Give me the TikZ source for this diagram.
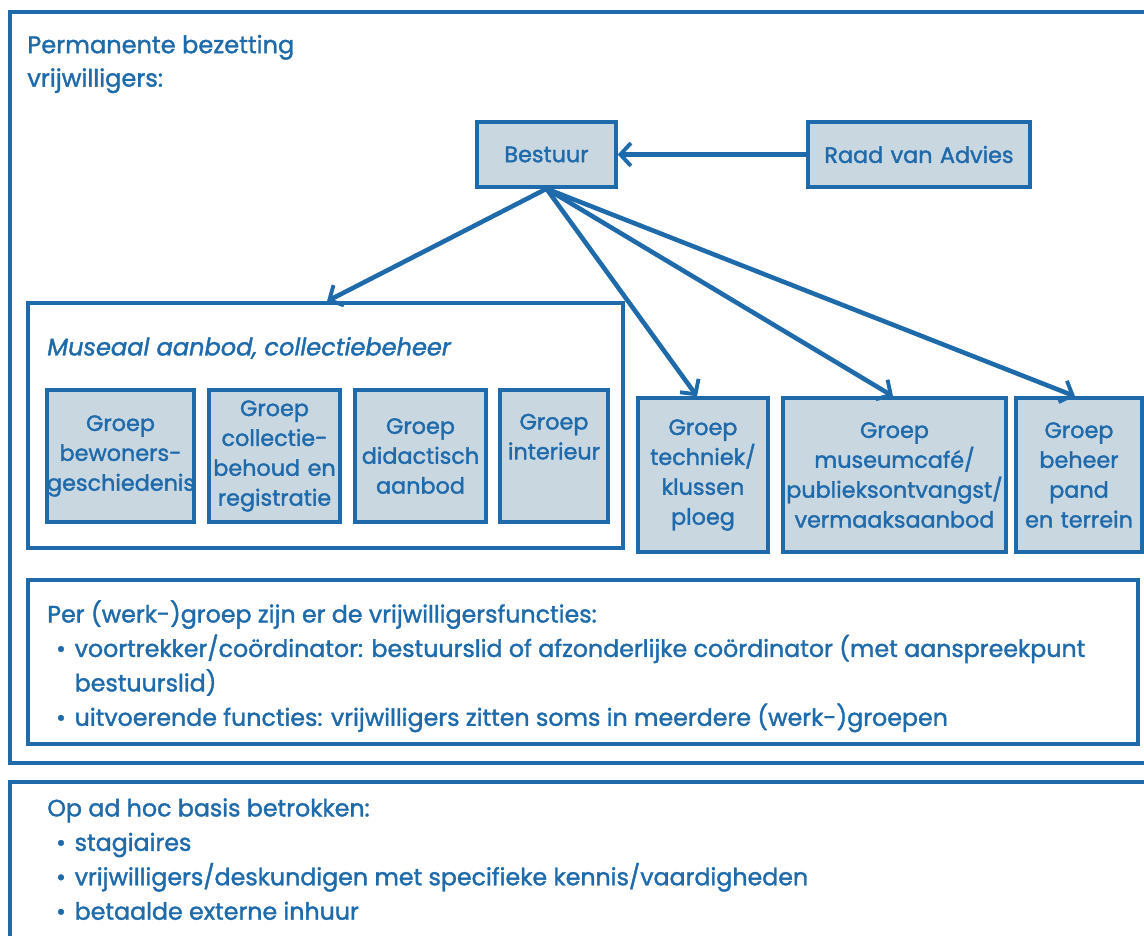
\documentclass[tikz,border=0pt]{standalone}
\usepackage{fontspec}
\setmainfont{Poppins}[FakeBold=1.5]
\usetikzlibrary{arrows.meta}
\definecolor{orgblue}{HTML}{1E6AAB}
\definecolor{orgfill}{HTML}{C9D7E1}

\begin{document}
\begin{tikzpicture}
  [x=0.02cm,y=-0.02cm,
   every node/.style={text=orgblue,font=\fontsize{12.7}{17}\selectfont},
   frame/.style={draw=orgblue,line width=2pt},
   groep/.style={frame,fill=orgfill,align=center,inner xsep=0pt,text width=#1},
   lijst/.style={align=left,anchor=north west,inner sep=0pt,font=\fontsize{13.5}{19.6}\selectfont},
   pijl/.style={draw=orgblue,line width=2.6pt,-{Straight Barb[length=6pt,width=13pt,line width=2.2pt]}}]
  \useasboundingbox (0,0) rectangle (1144,936);
  \clip (0,0) rectangle (1144,936);

  % outer frames
  \draw[frame] (10,12) rectangle (1170,763);
  \draw[frame] (10,782) rectangle (1170,960);
  \node[align=left,anchor=west,inner sep=0pt,font=\fontsize{13.7}{19}\selectfont] (titel) at (27,64) {Permanente bezetting\\vrijwilligers:};

  % top level
  \node[groep=2.78cm,minimum height=1.3cm] (bestuur) at (546.5,154.5) {Bestuur};
  \node[groep=4.44cm,minimum height=1.3cm] (raad) at (919,154.5) {Raad van Advies};

  % museaal aanbod
  \node[frame,minimum width=11.9cm,minimum height=4.9cm] (museaal) at (325.5,425.5) {};
  \node[anchor=west,inner sep=0pt,font=\fontsize{13.7}{17}\itshape] (museaaltitel) at (47,348) {Museaal aanbod, collectiebeheer};
  \node[groep=2.94cm,minimum height=2.64cm] (bewoners) at (120.5,456) {Groep\\bewoners-\\geschiedenis};
  \node[groep=2.62cm,minimum height=2.64cm] (collectie) at (274.5,456) {Groep\\collectie-\\behoud en\\registratie};
  \node[groep=2.62cm,minimum height=2.64cm] (didactisch) at (420.5,456) {Groep\\didactisch\\aanbod};
  \node[groep=2.16cm,minimum height=2.64cm] (interieur) at (554,456) {Groep\\interieur\\\strut};

  % other groups
  \node[groep=2.6cm,minimum height=3.08cm] (techniek) at (703,475) {Groep\\techniek/\\klussen\\ploeg};
  \node[groep=4.46cm,minimum height=3.08cm] (cafe) at (894.5,475) {Groep\\museumcafé/\\publieksontvangst/\\vermaaksaanbod};
  \node[groep=2.52cm,minimum height=3.08cm] (beheer) at (1079,475) {Groep\\beheer\\pand\\en terrein};

  \draw[pijl] (raad) -- (bestuur);
  \foreach \to/\x in {museaal/327,techniek/697,cafe/893,beheer/1075}
    \draw[pijl] (bestuur.south) -- (\to.north -| \x,0);

  % functies
  \node[frame,minimum width=22.2cm,minimum height=3.28cm] (functies) at (583,662) {};
  \node[lijst] (functielijst) at (47,600) {Per (werk-)groep zijn er de vrijwilligersfuncties:\\
    \hspace*{5pt}\textbullet\hspace{5pt}voortrekker/coördinator: bestuurslid of afzonderlijke coördinator (met aanspreekpunt\\
    \hspace*{5pt}\phantom{\textbullet}\hspace{5pt}bestuurslid)\\
    \hspace*{5pt}\textbullet\hspace{5pt}uitvoerende functies: vrijwilligers zitten soms in meerdere (werk-)groepen};

  % ad hoc
  \node[lijst] (adhoc) at (47,798) {Op ad hoc basis betrokken:\\
    \hspace*{5pt}\textbullet\hspace{5pt}stagiaires\\
    \hspace*{5pt}\textbullet\hspace{5pt}vrijwilligers/deskundigen met specifieke kennis/vaardigheden\\
    \hspace*{5pt}\textbullet\hspace{5pt}betaalde externe inhuur};
\end{tikzpicture}
\end{document}
